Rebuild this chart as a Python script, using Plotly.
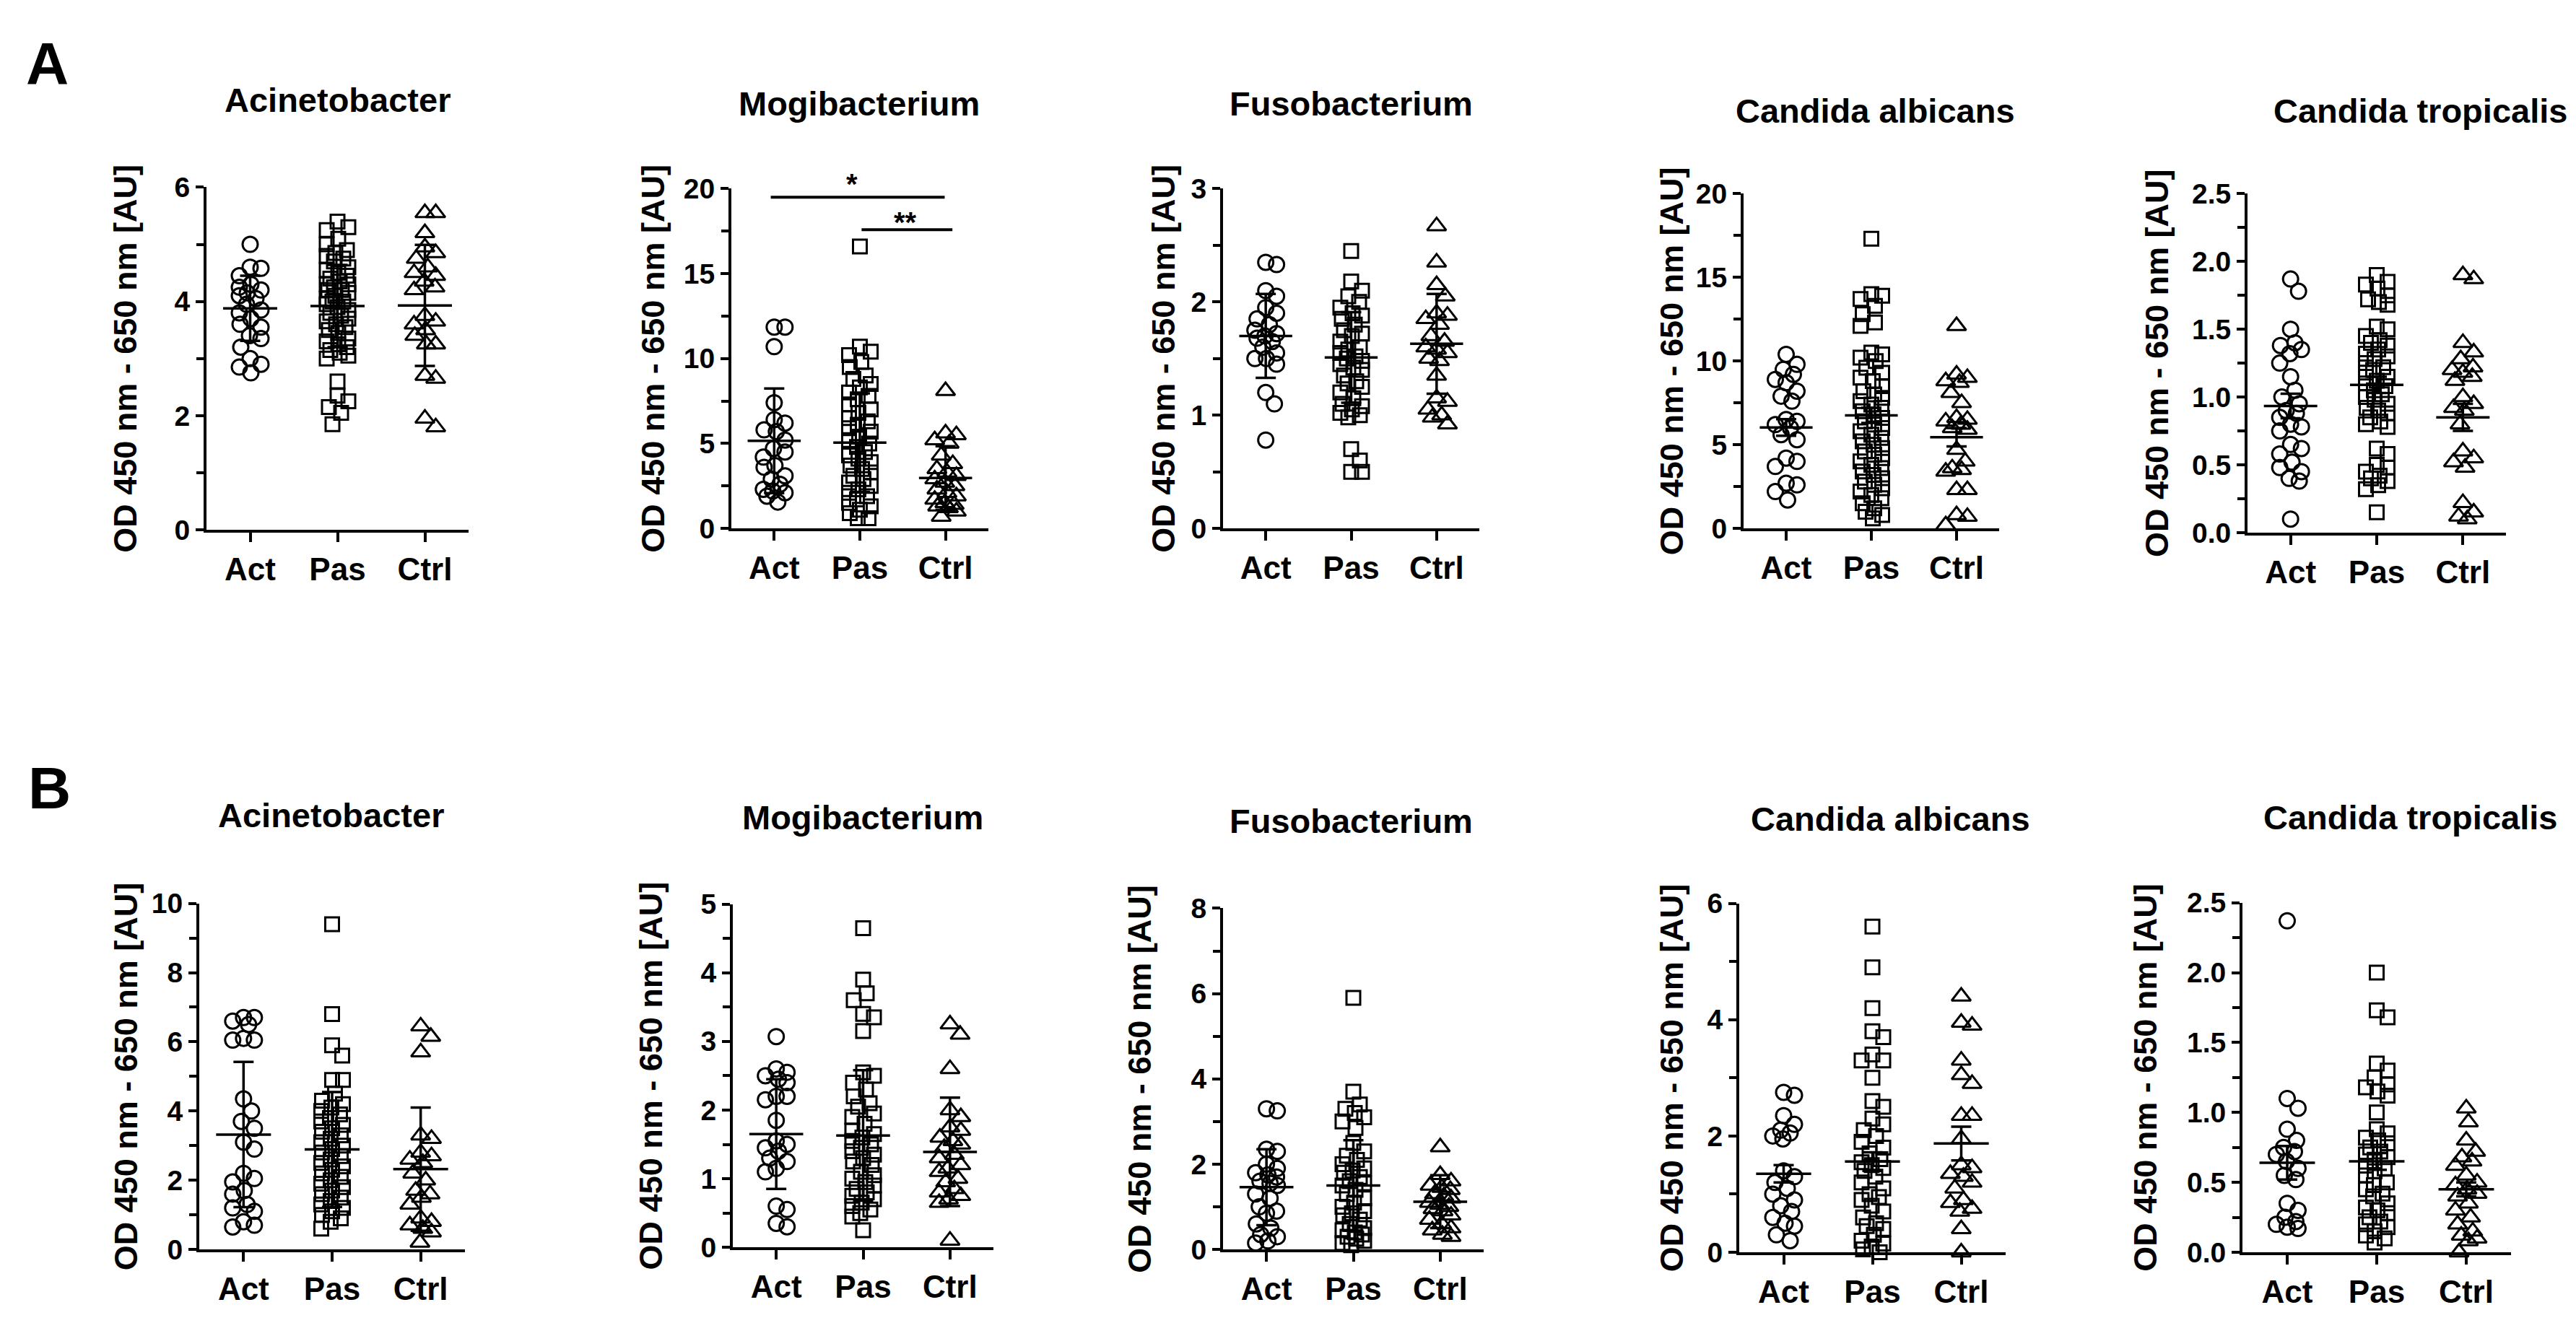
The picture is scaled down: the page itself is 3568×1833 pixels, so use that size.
import math
import plotly.graph_objects as go

# figure size of the reference
W, H = 3568, 1833

groups = ["Act", "Pas", "Ctrl"]
titles = ["Acinetobacter", "Mogibacterium", "Fusobacterium", "Candida albicans", "Candida tropicalis"]

# ---- row A values (OD 450 nm - 650 nm) ----
a_acin_act = [5.0, 4.6, 4.58, 4.45, 4.3, 4.25, 4.2, 4.15, 4.1, 4.05, 3.95, 3.85, 3.8, 3.7, 3.6, 3.55, 3.4, 3.35, 3.2, 3.0, 2.9, 2.85, 2.75]
a_acin_pas = [5.4, 5.3, 5.25, 5.1, 5.0, 4.9, 4.85, 4.8, 4.75, 4.7, 4.6, 4.55, 4.5, 4.45, 4.4, 4.35, 4.3, 4.3, 4.25, 4.2, 4.2, 4.15, 4.1, 4.05, 4.0, 4.0, 3.95, 3.9, 3.85, 3.8, 3.75, 3.7, 3.65, 3.6, 3.55, 3.5, 3.45, 3.35, 3.3, 3.25, 3.2, 3.15, 3.1, 3.05, 3.0, 2.6, 2.35, 2.25, 2.15, 2.05, 1.85]
a_acin_ctrl = [5.55, 5.55, 5.2, 4.95, 4.85, 4.75, 4.6, 4.5, 4.45, 4.35, 4.25, 4.2, 3.75, 3.65, 3.6, 3.5, 3.4, 3.25, 3.25, 2.7, 2.65, 1.95, 1.8]
a_acin_mean = [3.88, 3.92, 3.93]
a_acin_err = [0.57, 0.72, 1.06]

a_mogi_act = [11.85, 11.85, 10.7, 7.4, 6.4, 6.2, 5.8, 5.7, 5.2, 4.7, 4.5, 4.2, 3.7, 3.6, 3.1, 2.9, 2.6, 2.3, 2.2, 2.1, 1.9, 1.55]
a_mogi_pas = [16.6, 10.7, 10.4, 10.2, 9.8, 9.5, 9.0, 8.8, 8.5, 8.3, 8.0, 7.8, 7.6, 7.3, 7.0, 6.8, 6.5, 6.3, 6.1, 5.9, 5.7, 5.4, 5.2, 5.0, 4.8, 4.5, 4.3, 4.1, 3.9, 3.7, 3.5, 3.3, 3.1, 2.9, 2.7, 2.5, 2.3, 2.1, 1.9, 1.7, 1.5, 1.3, 1.1, 0.9, 0.6, 0.6]
a_mogi_ctrl = [8.1, 5.6, 5.5, 5.2, 5.0, 4.3, 3.8, 3.5, 3.3, 3.1, 2.9, 2.7, 2.5, 2.3, 2.1, 1.9, 1.7, 1.5, 1.4, 1.3, 1.2, 1.0, 0.7]
a_mogi_mean = [5.16, 5.05, 2.97]
a_mogi_err = [3.08, 2.9, 1.87]

a_fuso_act = [2.35, 2.33, 2.1, 2.05, 1.95, 1.9, 1.85, 1.8, 1.75, 1.72, 1.7, 1.68, 1.65, 1.6, 1.55, 1.5, 1.5, 1.45, 1.2, 1.1, 0.78]
a_fuso_pas = [2.45, 2.18, 2.1, 2.05, 2.0, 1.95, 1.9, 1.88, 1.85, 1.8, 1.75, 1.72, 1.7, 1.65, 1.6, 1.58, 1.55, 1.52, 1.5, 1.48, 1.45, 1.42, 1.4, 1.35, 1.3, 1.28, 1.25, 1.2, 1.15, 1.1, 1.08, 1.05, 1.02, 1.0, 0.98, 0.7, 0.6, 0.5, 0.5]
a_fuso_ctrl = [2.67, 2.35, 2.15, 2.05, 1.9, 1.88, 1.85, 1.8, 1.7, 1.65, 1.6, 1.58, 1.55, 1.5, 1.48, 1.35, 1.15, 1.12, 1.05, 1.0, 0.98, 0.92]
a_fuso_mean = [1.70, 1.51, 1.63]
a_fuso_err = [0.37, 0.40, 0.44]

a_calb_act = [10.4, 9.8, 9.5, 9.2, 8.9, 8.7, 8.2, 7.9, 7.6, 6.5, 6.4, 6.2, 6.0, 5.6, 5.3, 4.2, 4.0, 3.7, 2.7, 2.6, 2.2, 1.7]
a_calb_pas = [17.3, 14.0, 13.9, 13.7, 13.3, 12.8, 12.3, 12.1, 10.5, 10.4, 10.2, 10.0, 9.6, 9.3, 9.0, 8.8, 8.5, 8.2, 8.0, 7.8, 7.6, 7.4, 7.2, 7.0, 6.8, 6.6, 6.4, 6.2, 6.0, 5.8, 5.6, 5.4, 5.2, 5.0, 4.8, 4.6, 4.4, 4.2, 4.0, 3.8, 3.6, 3.4, 3.2, 3.0, 2.8, 2.6, 2.4, 2.2, 2.0, 1.8, 1.5, 1.2, 1.0, 0.8, 0.6]
a_calb_ctrl = [12.1, 9.2, 9.0, 8.8, 8.7, 8.1, 7.5, 6.6, 6.5, 6.4, 6.2, 6.0, 5.9, 4.7, 4.0, 3.6, 3.5, 3.4, 2.3, 2.3, 0.8, 0.7, 0.2]
a_calb_mean = [6.03, 6.75, 5.45]
a_calb_err = [0.50, 0.45, 0.55]

a_ctro_act = [1.87, 1.78, 1.5, 1.4, 1.38, 1.35, 1.32, 1.25, 1.15, 1.05, 1.0, 0.95, 0.9, 0.88, 0.85, 0.8, 0.78, 0.75, 0.65, 0.62, 0.58, 0.52, 0.48, 0.45, 0.4, 0.38, 0.1]
a_ctro_pas = [1.9, 1.85, 1.83, 1.8, 1.75, 1.72, 1.7, 1.68, 1.52, 1.5, 1.45, 1.42, 1.4, 1.38, 1.35, 1.32, 1.3, 1.28, 1.25, 1.22, 1.2, 1.18, 1.15, 1.12, 1.1, 1.08, 1.05, 1.02, 1.0, 0.98, 0.95, 0.92, 0.9, 0.88, 0.85, 0.82, 0.8, 0.78, 0.62, 0.58, 0.5, 0.48, 0.45, 0.42, 0.4, 0.38, 0.35, 0.32, 0.15]
a_ctro_ctrl = [1.9, 1.87, 1.4, 1.33, 1.28, 1.22, 1.2, 1.18, 1.15, 1.12, 1.0, 0.95, 0.92, 0.9, 0.8, 0.6, 0.55, 0.52, 0.48, 0.22, 0.15, 0.12, 0.1]
a_ctro_mean = [0.934, 1.09, 0.85]
a_ctro_err = [0.09, 0.06, 0.10]

# ---- row B values ----
b_acin_act = [6.7, 6.7, 6.6, 6.5, 6.1, 6.05, 6.05, 4.35, 4.0, 3.7, 3.5, 3.1, 2.9, 2.2, 2.05, 1.95, 1.7, 1.6, 1.3, 1.2, 1.1, 0.8, 0.7, 0.65]
b_acin_pas = [9.4, 6.8, 5.9, 5.6, 4.9, 4.9, 4.5, 4.3, 4.2, 4.1, 4.0, 3.9, 3.8, 3.7, 3.6, 3.5, 3.4, 3.3, 3.2, 3.1, 3.0, 2.9, 2.8, 2.7, 2.6, 2.5, 2.4, 2.3, 2.2, 2.1, 2.0, 1.9, 1.8, 1.7, 1.6, 1.5, 1.4, 1.3, 1.2, 1.1, 1.0, 0.9, 0.8, 0.6]
b_acin_ctrl = [6.45, 6.15, 5.7, 3.3, 3.2, 2.8, 2.7, 2.6, 2.5, 2.2, 2.0, 1.7, 1.6, 1.5, 1.3, 0.9, 0.8, 0.7, 0.6, 0.5, 0.2]
b_acin_mean = [3.32, 2.89, 2.32]
b_acin_err = [2.10, 1.66, 1.78]

b_mogi_act = [3.07, 2.6, 2.55, 2.5, 2.45, 2.4, 2.2, 2.2, 2.15, 1.85, 1.55, 1.5, 1.45, 1.4, 1.3, 1.25, 1.15, 1.1, 0.6, 0.55, 0.35, 0.3]
b_mogi_pas = [4.65, 3.9, 3.7, 3.6, 3.4, 3.35, 3.15, 2.55, 2.5, 2.4, 2.3, 2.2, 2.1, 2.05, 1.95, 1.9, 1.8, 1.7, 1.65, 1.6, 1.55, 1.5, 1.45, 1.4, 1.35, 1.3, 1.25, 1.2, 1.1, 1.05, 1.0, 0.95, 0.9, 0.85, 0.8, 0.75, 0.7, 0.65, 0.6, 0.55, 0.5, 0.45, 0.25]
b_mogi_ctrl = [3.25, 3.1, 2.6, 2.0, 1.9, 1.75, 1.7, 1.6, 1.55, 1.5, 1.45, 1.35, 1.3, 1.2, 1.15, 1.1, 1.0, 0.95, 0.85, 0.8, 0.75, 0.7, 0.65, 0.1]
b_mogi_mean = [1.65, 1.63, 1.39]
b_mogi_err = [0.80, 0.95, 0.79]

b_fuso_act = [3.3, 3.25, 2.35, 2.3, 2.0, 1.9, 1.8, 1.75, 1.7, 1.6, 1.55, 1.5, 1.3, 1.2, 1.0, 0.9, 0.85, 0.6, 0.5, 0.35, 0.3, 0.2, 0.15]
b_fuso_pas = [5.9, 3.7, 3.4, 3.3, 3.2, 3.1, 3.0, 2.85, 2.5, 2.3, 2.2, 2.1, 2.0, 1.9, 1.85, 1.8, 1.7, 1.6, 1.55, 1.5, 1.4, 1.3, 1.2, 1.1, 1.0, 0.9, 0.85, 0.8, 0.7, 0.6, 0.5, 0.45, 0.4, 0.35, 0.3, 0.25, 0.2, 0.15, 0.1]
b_fuso_ctrl = [2.4, 1.75, 1.6, 1.5, 1.45, 1.4, 1.3, 1.25, 1.2, 1.1, 1.05, 1.0, 0.95, 0.9, 0.8, 0.7, 0.6, 0.5, 0.45, 0.35, 0.3]
b_fuso_mean = [1.46, 1.50, 1.12]
b_fuso_err = [0.89, 1.06, 0.62]

b_calb_act = [2.75, 2.7, 2.35, 2.2, 2.1, 2.05, 2.0, 1.95, 1.4, 1.3, 1.2, 1.1, 1.0, 0.9, 0.8, 0.7, 0.6, 0.5, 0.45, 0.3, 0.2]
b_calb_pas = [5.6, 4.9, 4.2, 3.8, 3.7, 3.4, 3.3, 3.3, 3.0, 2.6, 2.5, 2.3, 2.2, 2.1, 2.0, 1.9, 1.8, 1.7, 1.6, 1.55, 1.5, 1.45, 1.4, 1.3, 1.2, 1.1, 1.0, 0.95, 0.9, 0.8, 0.7, 0.6, 0.5, 0.45, 0.4, 0.3, 0.2, 0.15, 0.1, 0.05, 0.0]
b_calb_ctrl = [4.4, 3.95, 3.9, 3.3, 3.05, 2.9, 2.35, 2.35, 1.95, 1.5, 1.45, 1.35, 1.3, 1.2, 1.1, 0.9, 0.85, 0.75, 0.7, 0.4, 0.0]
b_calb_mean = [1.35, 1.56, 1.87]
b_calb_err = [0.15, 0.16, 0.29]

b_ctro_act = [2.37, 1.1, 1.03, 0.88, 0.8, 0.75, 0.72, 0.7, 0.65, 0.6, 0.55, 0.52, 0.35, 0.3, 0.25, 0.22, 0.2, 0.18, 0.17]
b_ctro_pas = [2.0, 1.73, 1.68, 1.35, 1.3, 1.25, 1.2, 1.18, 1.15, 1.12, 1.0, 0.88, 0.85, 0.82, 0.8, 0.78, 0.75, 0.72, 0.7, 0.68, 0.65, 0.62, 0.6, 0.58, 0.55, 0.5, 0.48, 0.45, 0.42, 0.4, 0.35, 0.32, 0.3, 0.28, 0.25, 0.22, 0.2, 0.18, 0.15, 0.12, 0.1, 0.07]
b_ctro_ctrl = [1.03, 0.93, 0.8, 0.72, 0.68, 0.65, 0.62, 0.55, 0.5, 0.48, 0.45, 0.42, 0.4, 0.35, 0.3, 0.25, 0.2, 0.15, 0.12, 0.1, 0.08, 0.0]
b_ctro_mean = [0.64, 0.65, 0.45]
b_ctro_err = [0.12, 0.06, 0.05]

# y axis settings per bacterium: (max, major step, minor step, format)
yaxes_a = [(6, 2, 1, "d"), (20, 5, 2.5, "d"), (3, 1, 0.5, "d"), (20, 5, 2.5, "d"), (2.5, 0.5, 0.25, ".1f")]
yaxes_b = [(10, 2, 1, "d"), (5, 1, 0.5, "d"), (8, 2, 1, "d"), (6, 2, 1, "d"), (2.5, 0.5, 0.25, ".1f")]

panels = [
    ([a_acin_act, a_acin_pas, a_acin_ctrl], a_acin_mean, a_acin_err),
    ([a_mogi_act, a_mogi_pas, a_mogi_ctrl], a_mogi_mean, a_mogi_err),
    ([a_fuso_act, a_fuso_pas, a_fuso_ctrl], a_fuso_mean, a_fuso_err),
    ([a_calb_act, a_calb_pas, a_calb_ctrl], a_calb_mean, a_calb_err),
    ([a_ctro_act, a_ctro_pas, a_ctro_ctrl], a_ctro_mean, a_ctro_err),
    ([b_acin_act, b_acin_pas, b_acin_ctrl], b_acin_mean, b_acin_err),
    ([b_mogi_act, b_mogi_pas, b_mogi_ctrl], b_mogi_mean, b_mogi_err),
    ([b_fuso_act, b_fuso_pas, b_fuso_ctrl], b_fuso_mean, b_fuso_err),
    ([b_calb_act, b_calb_pas, b_calb_ctrl], b_calb_mean, b_calb_err),
    ([b_ctro_act, b_ctro_pas, b_ctro_ctrl], b_ctro_mean, b_ctro_err),
]
yset = yaxes_a + yaxes_b

# plot boxes in pixels: left, right, top, bottom
boxes = [
    (278, 641, 236, 722), (1005, 1361, 238, 720), (1686, 2041, 238, 720),
    (2407, 2761, 245, 720), (3105, 3463, 245, 726),
    (268, 636, 1252, 1743), (1007, 1368, 1253, 1740), (1686, 2047, 1259, 1743),
    (2401, 2770, 1252, 1747), (3098, 3470, 1251, 1747),
]
# panel title centres and y-title x centres (pixels)
title_pos = [(459, 112), (1182, 117), (1864, 117), (2589, 128), (3344, 128),
             (450, 1127), (1187, 1130), (1864, 1135), (2610, 1132), (3330, 1130)]
ytitle_x = [166, 897, 1604, 2307, 2979, 166, 893, 1571, 2307, 2964]

symbols = ["circle-open", "square-open", "triangle-up-open"]
sizes = [21, 19, 23]
FONT = "Liberation Sans, Arial, sans-serif"


def swarm(vals, ppu_y, ppu_x, d=20.0, maxoff=15):
    # GraphPad-like scatter: spread points sideways so they don't sit on top of each other
    order = sorted(range(len(vals)), key=lambda i: -vals[i])
    cands = [0]
    for k in range(1, maxoff + 1):
        cands += [k, -k]
    placed = []
    offs = [0.0] * len(vals)
    for i in order:
        y = vals[i] * ppu_y
        best, bestd = 0, -1.0
        for c in cands:
            md = min((math.hypot(c - px, y - py) for px, py in placed), default=1e9)
            if md >= d:
                best = c
                break
            if md > bestd:
                best, bestd = c, md
        placed.append((best, y))
        offs[i] = best / ppu_x
    return offs


fig = go.Figure()
lay = {}
for k, ((data, means, errs), (ymax, dt, mdt, fmt), box) in enumerate(zip(panels, yset, boxes)):
    n = k + 1
    xa, ya = ("x%d" % n if n > 1 else "x"), ("y%d" % n if n > 1 else "y")
    x0, x1, yt, yb = box
    ppu_x = (x1 - x0) / 3.0
    ppu_y = (yb - yt) / ymax

    for g, vals in enumerate(data):
        offs = swarm(vals, ppu_y, ppu_x)
        fig.add_trace(go.Scatter(
            x=[g + o for o in offs], y=vals, mode="markers", xaxis=xa, yaxis=ya,
            cliponaxis=False, hoverinfo="y",
            marker=dict(symbol=symbols[g], size=sizes[g], color="black",
                        line=dict(width=3, color="black"))))

    # mean lines
    mx, my = [], []
    for g, m in enumerate(means):
        mx += [g - 0.31, g + 0.31, None]
        my += [m, m, None]
    fig.add_trace(go.Scatter(x=mx, y=my, mode="lines", xaxis=xa, yaxis=ya,
                             line=dict(color="black", width=3.5), hoverinfo="skip"))
    # error bars
    fig.add_trace(go.Scatter(
        x=[0, 1, 2], y=means, mode="markers", xaxis=xa, yaxis=ya,
        marker=dict(size=1, color="rgba(0,0,0,0)"), hoverinfo="skip",
        error_y=dict(type="data", array=errs, visible=True, width=14,
                     thickness=3.5, color="black")))

    lay["xaxis%d" % n] = dict(
        domain=[x0 / W, x1 / W], range=[-0.5, 2.5], anchor=ya,
        tickvals=[0, 1, 2], ticktext=groups, showgrid=False, zeroline=False,
        showline=True, linecolor="black", linewidth=4,
        ticks="outside", ticklen=13, tickwidth=4, tickcolor="black",
        tickfont=dict(family=FONT, size=44, color="black", weight="bold"))
    lay["yaxis%d" % n] = dict(
        domain=[1 - yb / H, 1 - yt / H], range=[0, ymax], anchor=xa,
        dtick=dt, tick0=0, tickformat=fmt, showgrid=False, zeroline=False,
        showline=True, linecolor="black", linewidth=4,
        ticks="outside", ticklen=11, tickwidth=4, tickcolor="black",
        minor=dict(dtick=mdt, tick0=0, ticks="outside", ticklen=10, tickwidth=4,
                   tickcolor="black", showgrid=False),
        tickfont=dict(family=FONT, size=39, color="black", weight="bold"))

lay["xaxis"] = lay.pop("xaxis1")
lay["yaxis"] = lay.pop("yaxis1")

ann = []
for k in range(10):
    tx, ty = title_pos[k]
    ann.append(dict(text=titles[k % 5], x=tx / W, y=1 - ty / H, xref="paper", yref="paper",
                    xanchor="center", yanchor="middle", showarrow=False,
                    font=dict(family=FONT, size=47, color="black", weight="bold")))
    x0, x1, yt, yb = boxes[k]
    ann.append(dict(text="OD 450 nm - 650 nm [AU]", textangle=-90,
                    x=ytitle_x[k] / W, y=1 - (yt + yb) / 2 / H, xref="paper", yref="paper",
                    xanchor="center", yanchor="middle", showarrow=False,
                    font=dict(family=FONT, size=45, color="black", weight="bold")))

for lab, (px, py) in zip(["A", "B"], [(57, 60), (60, 1088)]):
    ann.append(dict(text=lab, x=px / W, y=1 - py / H, xref="paper", yref="paper",
                    xanchor="center", yanchor="middle", showarrow=False,
                    font=dict(family=FONT, size=82, color="black", weight="bold")))

# significance brackets on Mogibacterium (row A)
ann.append(dict(text="*", x=0.91, y=1.03, yshift=16, xref="x2", yref="y2 domain",
                showarrow=False, font=dict(family=FONT, size=40, color="black", weight="bold")))
ann.append(dict(text="**", x=1.53, y=0.915, yshift=17, xref="x2", yref="y2 domain",
                showarrow=False, font=dict(family=FONT, size=40, color="black", weight="bold")))
shapes = [
    dict(type="line", xref="x2", yref="y2", x0=-0.04, x1=1.99, y0=19.5, y1=19.5,
         line=dict(color="black", width=4)),
    dict(type="line", xref="x2", yref="y2", x0=1.02, x1=2.08, y0=17.58, y1=17.58,
         line=dict(color="black", width=4)),
]

fig.update_layout(
    width=W, height=H, margin=dict(l=0, r=0, t=0, b=0),
    paper_bgcolor="white", plot_bgcolor="white", showlegend=False,
    annotations=ann, shapes=shapes, **lay)

fig.write_html("out.html")
